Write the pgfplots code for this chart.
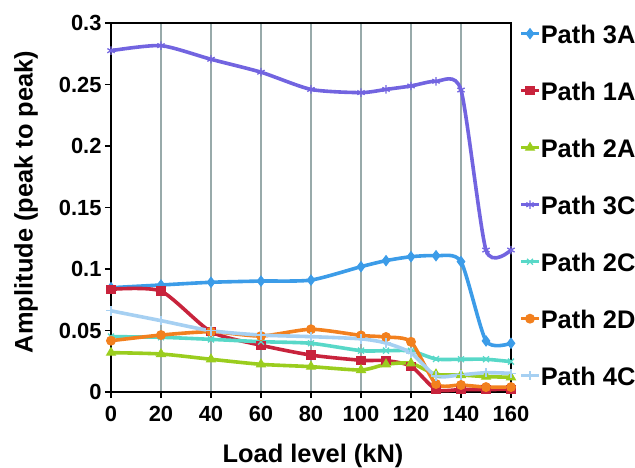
\documentclass[border=0pt]{standalone}
\usepackage{fontspec}
\setmainfont{Liberation Sans}
\usepackage{pgfplots}
\pgfplotsset{compat=1.18}
\usepackage{pgfplotstable}

\definecolor{cA3}{HTML}{3C9CE8}
\definecolor{cA1}{HTML}{C8233C}
\definecolor{cA2}{HTML}{9ACD1E}
\definecolor{cC3}{HTML}{7264E0}
\definecolor{cC2}{HTML}{58D8C8}
\definecolor{cD2}{HTML}{F2801E}
\definecolor{cC4}{HTML}{A6D0F2}
\definecolor{gridc}{HTML}{98AAAA}

% amplitude (peak to peak) against load level
\pgfplotstableread{
x   p3A    p1A    p2A    p3C    p2C    p2D    p4C
0   0.0848 0.0835 0.0320 0.2775 0.0450 0.0417 0.0660
20  0.0870 0.0820 0.0309 0.2816 0.0445 0.0463 0.0580
40  0.0892 0.0490 0.0266 0.2705 0.0428 0.0490 0.0498
60  0.0902 0.0380 0.0225 0.2600 0.0409 0.0455 0.0463
80  0.0910 0.0300 0.0206 0.2460 0.0396 0.0510 0.0450
100 0.1019 0.0258 0.0179 0.2434 0.0336 0.0460 0.0432
110 0.1068 0.0255 0.0225 0.2460 0.0336 0.0447 0.0398
120 0.1100 0.0210 0.0233 0.2488 0.0334 0.0408 0.0318
130 0.1108 0.0020 0.0144 0.2526 0.0268 0.0065 0.0130
140 0.1060 0.0020 0.0138 0.2455 0.0266 0.0057 0.0140
150 0.0415 0.0020 0.0125 0.1154 0.0266 0.0040 0.0157
160 0.0396 0.0022 0.0120 0.1154 0.0247 0.0040 0.0152
}\amp

\begin{document}
\begin{tikzpicture}
\begin{axis}[
  at={(111bp,76bp)}, anchor=south west,
  scale only axis, width=400bp, height=369bp,
  xmin=0, xmax=160, ymin=0, ymax=0.3,
  xtick={0,20,...,160},
  ytick={0,0.05,0.1,0.15,0.2,0.25,0.3},
  /pgf/number format/assume math mode=true,
  /pgf/number format/fixed,
  /pgf/number format/precision=2,
  tick pos=left, tick align=outside,
  major tick length=6bp,
  tick style={black, line width=1.8bp},
  axis line style={black, line width=2.5bp},
  xmajorgrids,
  major grid style={gridc, line width=1.5bp},
  tick label style={font=\fontsize{22}{26}\selectfont\bfseries},
  xticklabel style={yshift=-5bp},
  label style={font=\fontsize{25.5}{30}\selectfont\bfseries},
  xlabel={Load level (kN)},
  ylabel={Amplitude (peak to peak)},
  x label style={at={(axis description cs:0.505,-0.1924)}, anchor=base},
  y label style={at={(axis description cs:-0.2125,0.515)}, anchor=center},
  clip=false,
  every axis plot/.append style={line width=3.6bp, smooth, tension=0.4},
  mark options={solid, line width=1.3bp},
  legend style={draw=none, fill=none, at={(1.02,0.9973)}, anchor=north west,
    inner sep=0pt, row sep=38bp,
    nodes={inner sep=0pt, text height=19bp, text depth=0pt},
    font=\fontsize{25.5}{30}\selectfont\bfseries},
  legend cell align=left,
  legend image code/.code={\draw[mark repeat=2,mark phase=2,#1] plot coordinates {(0bp,0bp) (9bp,0bp) (18bp,0bp)};},
]
\addplot[cA3, mark=diamond*, mark size=4.8bp] table[y=p3A]{\amp};
\addlegendentry{Path 3A}
\addplot[cA1, mark=square*, mark size=4bp] table[y=p1A]{\amp};
\addlegendentry{Path 1A}
\addplot[cA2, mark=triangle*, mark size=4.8bp] table[y=p2A]{\amp};
\addlegendentry{Path 2A}
\addplot[cC3, mark=asterisk, mark size=4.2bp] table[y=p3C]{\amp};
\addlegendentry{Path 3C}
\addplot[cC2, mark=x, mark size=4.2bp] table[y=p2C]{\amp};
\addlegendentry{Path 2C}
\addplot[cD2, mark=*, mark size=4.3bp] table[y=p2D]{\amp};
\addlegendentry{Path 2D}
\addplot[cC4, mark=+, mark size=4.8bp] table[y=p4C]{\amp};
\addlegendentry{Path 4C}
\end{axis}
\pgfresetboundingbox
\useasboundingbox (0,0) rectangle (635bp,468bp);
\end{tikzpicture}
\end{document}
